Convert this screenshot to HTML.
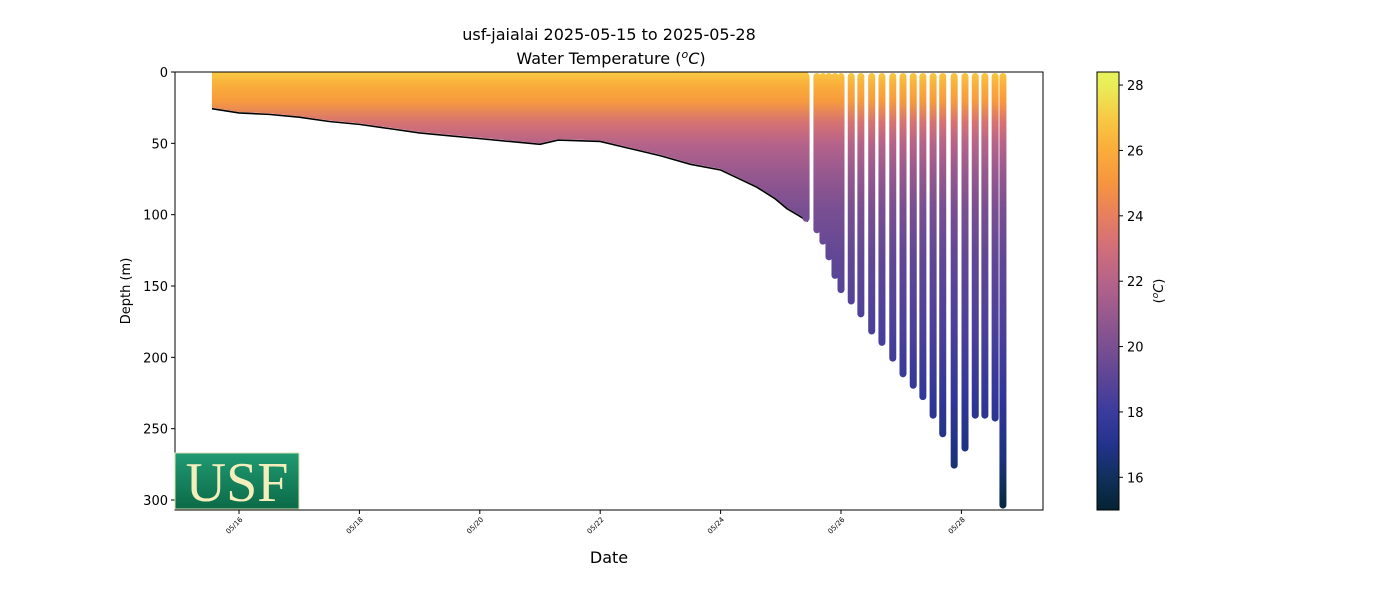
<!DOCTYPE html>
<html><head><meta charset="utf-8"><style>
body{margin:0;background:#fff;font-family:"Liberation Sans","DejaVu Sans",sans-serif}
svg text{font-family:"DejaVu Sans","Liberation Sans",sans-serif}
</style></head><body>
<svg id="chart" width="1400" height="600" xmlns="http://www.w3.org/2000/svg">
<defs>
<linearGradient id="cbar" x1="0" y1="1" x2="0" y2="0"></linearGradient>
<linearGradient id="prof" gradientUnits="userSpaceOnUse" x1="0" y1="72" x2="0" y2="510"></linearGradient>
<linearGradient id="usfg" x1="0" y1="0" x2="0" y2="1"><stop offset="0" stop-color="#1f9a72"/><stop offset="1" stop-color="#0c6a48"/></linearGradient>
</defs>
<text x="609" y="40" text-anchor="middle" font-size="16">usf-jaialai 2025-05-15 to 2025-05-28</text>
<text x="611" y="64" text-anchor="middle" font-size="16">Water Temperature (<tspan font-style="italic" baseline-shift="super" font-size="11">o</tspan><tspan font-style="italic">C</tspan>)</text>
<g id="plot"></g>
<g id="axes"></g>
<text x="609" y="563" text-anchor="middle" font-size="16">Date</text>
<text transform="translate(130,291) rotate(-90)" text-anchor="middle" font-size="13">Depth (m)</text>
<g>
<rect x="175" y="453" width="124" height="56" fill="url(#usfg)" stroke="#d8e0b0" stroke-width="1"/>
<text x="237" y="501" text-anchor="middle" font-size="56" fill="#f3eebb" style="font-family:'Liberation Serif',serif">USF</text>
</g>
<g id="cb"></g>
<text transform="translate(1163,291) rotate(-90)" text-anchor="middle" font-size="13">(<tspan font-style="italic" baseline-shift="super" font-size="9">o</tspan><tspan font-style="italic">C</tspan>)</text>
</svg>
<script>
const xTickLabels=["05/16","05/18","05/20","05/22","05/24","05/26","05/28"];
const xTickDays=[16,18,20,22,24,26,28];
const yTicks=[0,50,100,150,200,250,300];
const cbTicks=[16,18,20,22,24,26,28];
const depthStops=[0,8,20,35,50,70,95,130,180,230,270,290,306];
const tempStops=[27.0,26.2,25.3,23.3,22.0,21.0,20.0,19.2,18.5,17.6,16.7,16.0,15.3];
const bottomDays=[15.55,16.0,16.5,17.0,17.5,18.0,18.5,19.0,19.5,20.0,20.5,21.0,21.3,22.0,22.5,23.0,23.5,24.0,24.3,24.6,24.9,25.1,25.3,25.45];
const bottomDepths=[25,28,29,31,34,36,39,42,44,46,48,50,47,48,53,58,64,68,74,80,88,95,100,104];
const castDays=[25.42,25.60,25.70,25.80,25.90,26.0,26.17,26.33,26.51,26.68,26.86,27.03,27.20,27.36,27.53,27.69,27.88,28.06,28.23,28.39,28.56,28.69];
const castDepths=[105,113,121,132,145,155,163,172,184,192,203,214,222,230,243,256,278,266,243,243,245,306];
const cmapT=[15,16,17,18,19,20,21,22,23,24,25,26,27,28,28.4];
const cmapC=["#042333","#10305c","#23338d","#3a3b9e","#5c4596","#7a4f92","#98598e","#b6638a","#d16e7a","#e77f5f","#f6953f","#fbac3b","#f7c944","#e9ee58","#e6f35e"];
const X0=175,X1=1043,Y0=72,Y1=510,D0=0,D1=307;
const dayPx=60.2;
const xs=d=>239+(d-16)*dayPx;
const ys=v=>Y0+(v-D0)/(D1-D0)*(Y1-Y0);
const cs=t=>510-(t-15)/(28.4-15)*438;
const NS="http://www.w3.org/2000/svg";
function mk(tag,attrs,parent){const e=document.createElementNS(NS,tag);for(const k in attrs)e.setAttribute(k,attrs[k]);parent.appendChild(e);return e;}
function col(t){for(let i=0;i<cmapT.length-1;i++){if(t<=cmapT[i+1]){const f=Math.max(0,(t-cmapT[i])/(cmapT[i+1]-cmapT[i]));const a=cmapC[i],b=cmapC[i+1];const p=j=>parseInt(a.substr(j,2),16)+f*(parseInt(b.substr(j,2),16)-parseInt(a.substr(j,2),16));return `rgb(${p(1)|0},${p(3)|0},${p(5)|0})`;}}return cmapC[cmapC.length-1];}
const cb=document.getElementById('cbar');
cmapT.forEach((t,i)=>{mk('stop',{offset:(t-15)/13.4,'stop-color':cmapC[i]},cb);});
const pg=document.getElementById('prof');
depthStops.forEach((d,i)=>{mk('stop',{offset:(ys(d)-Y0)/(Y1-Y0),'stop-color':col(tempStops[i])},pg);});
const plot=document.getElementById('plot');
let pts=`${xs(bottomDays[0])},${ys(0)} `;
bottomDays.forEach((d,i)=>{pts+=`${xs(d)},${ys(bottomDepths[i])} `;});
pts+=`${xs(bottomDays[bottomDays.length-1])},${ys(0)}`;
const area=mk('polygon',{points:pts,fill:'url(#prof)'},plot);


const bl=mk('polyline',{points:bottomDays.map((d,i)=>`${xs(d)},${ys(bottomDepths[i])+1}`).join(' '),fill:'none',stroke:'#000','stroke-width':1.6},plot);


castDays.forEach((d,i)=>{
  const x=xs(d);
  const r=mk('rect',{x:x-3.5,y:ys(0)+1,width:7,height:ys(castDepths[i])-ys(0)-1,rx:3.5,fill:'url(#prof)'},plot);
  
  
});
const ax=document.getElementById('axes');
const fr=mk('rect',{x:X0,y:Y0,width:X1-X0,height:Y1-Y0,fill:'none',stroke:'#000','stroke-width':1},ax);


xTickDays.forEach((d,i)=>{
  const x=xs(d);
  mk('line',{x1:x,y1:Y1,x2:x,y2:Y1+4,stroke:'#000'},ax);
  const t=mk('text',{x:x+4,y:Y1+10,'font-size':7,'text-anchor':'end',transform:`rotate(-45 ${x+4} ${Y1+10})`},ax);
  t.textContent=xTickLabels[i];
  
  
});
yTicks.forEach(v=>{
  const y=ys(v);
  mk('line',{x1:X0-4,y1:y,x2:X0,y2:y,stroke:'#000'},ax);
  const t=mk('text',{x:X0-7,y:y+5,'font-size':13,'text-anchor':'end'},ax);
  t.textContent=v;
  
  
});
const cbg=document.getElementById('cb');
mk('rect',{x:1097,y:72,width:22,height:438,fill:'url(#cbar)',stroke:'#000','stroke-width':1},cbg);
cbTicks.forEach(v=>{
  const y=cs(v);
  mk('line',{x1:1119,y1:y,x2:1123,y2:y,stroke:'#000'},cbg);
  const t=mk('text',{x:1127,y:y+5,'font-size':13},cbg);
  t.textContent=v;
  
  
});
</script>
</body></html>
